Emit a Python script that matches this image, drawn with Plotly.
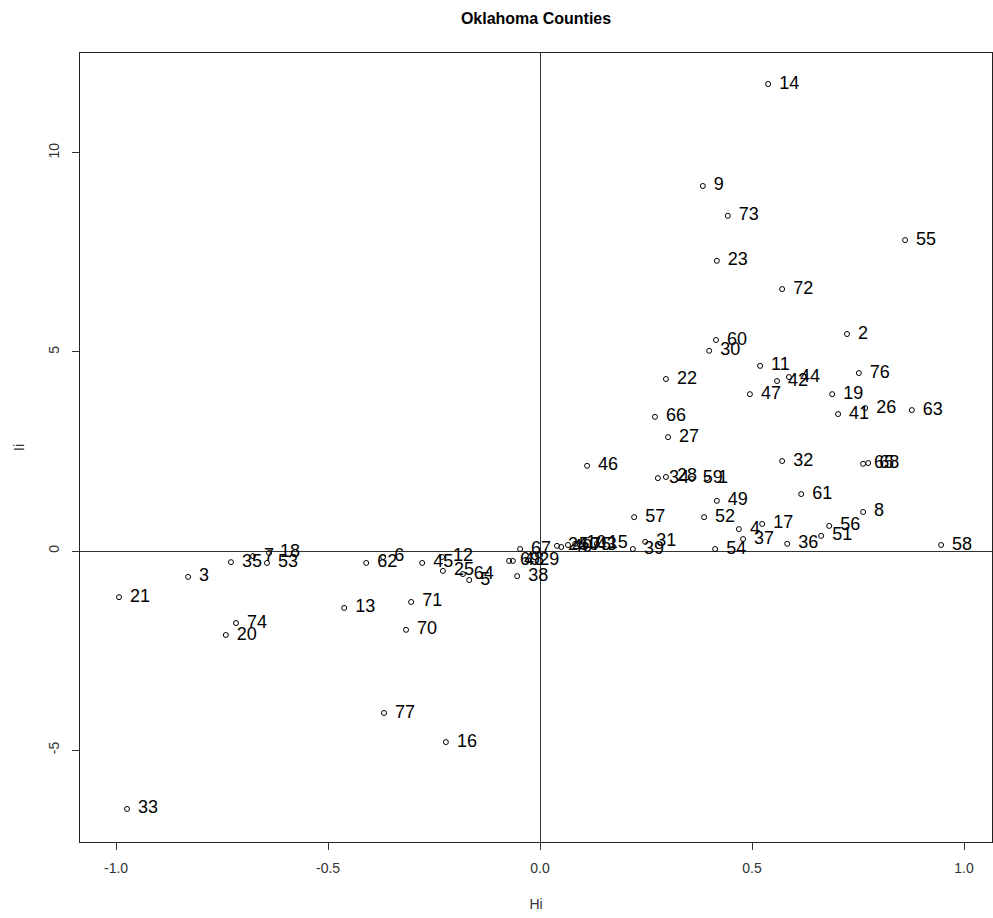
import plotly.graph_objects as go

# County id, local Hi statistic and local Ii statistic
county = [14, 9, 73, 55, 23, 72, 2, 60, 30, 11, 76, 22, 42, 44, 47, 19, 26, 41, 63,
          66, 27, 46, 32, 65, 68, 34, 28, 59, 1, 49, 61, 57, 52, 8, 17, 4, 56, 51,
          37, 36, 58, 54, 31, 39, 24, 40, 50, 10, 75, 43, 15, 67, 69, 48, 29, 38,
          18, 7, 35, 53, 3, 21, 74, 20, 62, 6, 45, 12, 25, 64, 5, 13, 71, 70, 77,
          16, 33]
hi = [0.538, 0.384, 0.443, 0.861, 0.417, 0.571, 0.724, 0.415, 0.399, 0.519, 0.752,
      0.297, 0.559, 0.587, 0.495, 0.689, 0.767, 0.703, 0.877, 0.271, 0.302, 0.111,
      0.571, 0.762, 0.774, 0.278, 0.297, 0.358, 0.394, 0.417, 0.616, 0.222, 0.387,
      0.762, 0.524, 0.469, 0.682, 0.663, 0.479, 0.583, 0.946, 0.413, 0.248, 0.219,
      0.040, 0.050, 0.066, 0.083, 0.094, 0.108, 0.134, -0.047, -0.073, -0.064,
      -0.028, -0.054, -0.639, -0.677, -0.729, -0.644, -0.830, -0.993, -0.717,
      -0.741, -0.410, -0.370, -0.278, -0.231, -0.229, -0.182, -0.167, -0.462,
      -0.304, -0.316, -0.368, -0.222, -0.974]
ii = [11.73, 9.17, 8.42, 7.81, 7.29, 6.58, 5.45, 5.30, 5.03, 4.65, 4.47, 4.32, 4.27,
      4.37, 3.94, 3.94, 3.59, 3.44, 3.54, 3.37, 2.86, 2.14, 2.26, 2.19, 2.21, 1.83,
      1.86, 1.81, 1.83, 1.26, 1.43, 0.85, 0.85, 0.98, 0.68, 0.55, 0.63, 0.38, 0.30,
      0.18, 0.15, 0.05, 0.23, 0.05, 0.13, 0.10, 0.15, 0.18, 0.15, 0.15, 0.18, 0.05,
      -0.25, -0.25, -0.23, -0.63, -0.05, -0.13, -0.28, -0.30, -0.65, -1.16, -1.81,
      -2.11, -0.30, -0.15, -0.30, -0.15, -0.50, -0.58, -0.73, -1.43, -1.28, -1.98,
      -4.07, -4.80, -6.48]

x_ticks = [-1.0, -0.5, 0.0, 0.5, 1.0]
x_tick_text = ["-1.0", "-0.5", "0.0", "0.5", "1.0"]
y_ticks = [-5, 0, 5, 10]
y_tick_text = ["-5", "0", "5", "10"]

FONT = "Liberation Sans, Arial, sans-serif"

fig = go.Figure()
# point symbols
fig.add_trace(go.Scatter(
    x=hi, y=ii, mode="markers",
    marker=dict(symbol="circle-open", size=5, color="black", line=dict(width=1)),
    hoverinfo="skip", showlegend=False,
))
# county labels set to the right of each point (invisible wider marker gives the gap)
fig.add_trace(go.Scatter(
    x=hi, y=ii, mode="markers+text",
    text=[str(c) for c in county],
    textposition="middle right",
    textfont=dict(family=FONT, size=18, color="black"),
    marker=dict(size=16, opacity=0),
    hoverinfo="skip", showlegend=False,
))

axis_font = dict(family=FONT, size=14, color="#333333")

fig.update_layout(
    width=993, height=918,
    margin=dict(l=80, r=1, t=53, b=76),
    paper_bgcolor="white", plot_bgcolor="white",
    title=dict(text="<b>Oklahoma Counties</b>", x=0.5, xref="paper", y=1 - 18 / 918,
               yanchor="middle",
               font=dict(family=FONT, size=16, color="black")),
    xaxis=dict(
        range=[-1.085, 1.066], tickvals=x_ticks, ticktext=x_tick_text,
        ticks="outside", ticklen=7, tickcolor="#333333", tickfont=axis_font,
        ticklabelstandoff=6,
        showgrid=False, zeroline=True, zerolinecolor="#333333", zerolinewidth=1,
        showline=True, linecolor="#222222", linewidth=1, mirror=True,
        title=dict(text="Hi", font=axis_font, standoff=24),
    ),
    yaxis=dict(
        range=[-7.31, 12.51], tickvals=y_ticks, ticktext=y_tick_text,
        ticks="outside", ticklen=7, tickcolor="#333333", tickfont=axis_font,
        tickangle=-90, ticklabelstandoff=7,
        showgrid=False, zeroline=True, zerolinecolor="#333333", zerolinewidth=1,
        showline=True, linecolor="#222222", linewidth=1, mirror=True,
        title=dict(text="Ii", font=axis_font, standoff=18),
    ),
)

fig.write_html("out.html")
